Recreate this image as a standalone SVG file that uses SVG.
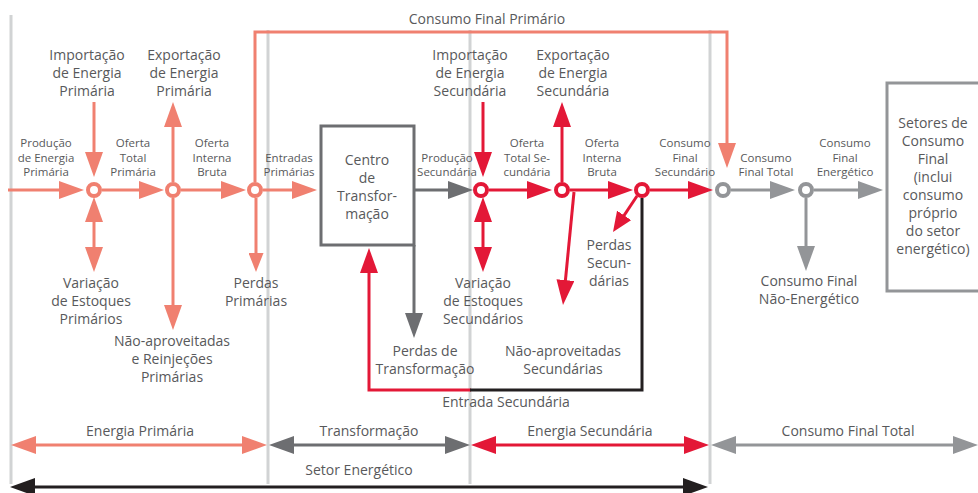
<svg xmlns="http://www.w3.org/2000/svg" width="978" height="493" viewBox="0 0 978 493">
<style>
text{font-family:"Open Sans","DejaVu Sans",sans-serif;fill:#58595B;text-anchor:middle}
.L{font-size:14px}
.S{font-size:11.5px}
.g{stroke:#D1D3D4;stroke-width:3;fill:none}
.ln{fill:none;stroke-width:3}
.sal{stroke:#F08070}
.red{stroke:#E31837}
.dg{stroke:#6D6E71}
.lg{stroke:#939598}
.blk{stroke:#231F20}
.nd{fill:#fff;stroke-width:4}
</style>
<defs>
<marker id="ms" markerUnits="userSpaceOnUse" markerWidth="25" markerHeight="18" refX="19" refY="9" orient="auto-start-reverse" viewBox="0 0 25 18"><path d="M0,0 L25,9 L0,18 z" fill="#F08070"/></marker>
<marker id="mss" markerUnits="userSpaceOnUse" markerWidth="19" markerHeight="15" refX="14" refY="7.5" orient="auto" viewBox="0 0 19 15"><path d="M0,0 L19,7.5 L0,15 z" fill="#F08070"/></marker>
<marker id="mr" markerUnits="userSpaceOnUse" markerWidth="25" markerHeight="18" refX="19" refY="9" orient="auto-start-reverse" viewBox="0 0 25 18"><path d="M0,0 L25,9 L0,18 z" fill="#E31837"/></marker>
<marker id="mrs" markerUnits="userSpaceOnUse" markerWidth="20" markerHeight="17" refX="15" refY="8.5" orient="auto" viewBox="0 0 20 17"><path d="M0,0 L20,8.5 L0,17 z" fill="#E31837"/></marker>
<marker id="mdg" markerUnits="userSpaceOnUse" markerWidth="25" markerHeight="18" refX="19" refY="9" orient="auto-start-reverse" viewBox="0 0 25 18"><path d="M0,0 L25,9 L0,18 z" fill="#6D6E71"/></marker>
<marker id="mlg" markerUnits="userSpaceOnUse" markerWidth="25" markerHeight="18" refX="19" refY="9" orient="auto-start-reverse" viewBox="0 0 25 18"><path d="M0,0 L25,9 L0,18 z" fill="#939598"/></marker>
<marker id="mb" markerUnits="userSpaceOnUse" markerWidth="25" markerHeight="18" refX="19" refY="9" orient="auto-start-reverse" viewBox="0 0 25 18"><path d="M0,0 L25,9 L0,18 z" fill="#231F20"/></marker>
</defs>
<rect width="978" height="493" fill="#fff"/>
<g id="guides">
<path class="g" d="M11,15 V484 M268,30 V484 M470,30 V484 M710,30 V484"/>
</g>
<g id="connectors">
<path class="ln sal" d="M8,190 H78" marker-end="url(#ms)"/>
<path class="ln sal" d="M102,190 H158" marker-end="url(#ms)"/>
<path class="ln sal" d="M181,190 H240" marker-end="url(#ms)"/>
<path class="ln sal" d="M263,190 H311" marker-end="url(#ms)"/>
<path class="ln sal" d="M94,102 V171" marker-end="url(#ms)"/>
<path class="ln sal" d="M94,203 V266" marker-start="url(#ms)" marker-end="url(#ms)"/>
<path class="ln sal" d="M173,182 V108" marker-end="url(#ms)"/>
<path class="ln sal" d="M173,198 V324" marker-end="url(#ms)"/>
<path class="ln sal" d="M255,182 V32 H727 V162" marker-end="url(#ms)"/>
<path class="ln sal" d="M256,198 V267" marker-end="url(#mss)"/>
<path class="ln dg" d="M414,190 H467" marker-end="url(#mdg)"/>
<path class="ln dg" d="M414,245 V332" marker-end="url(#mdg)"/>
<path class="ln red" d="M489,190 H546" marker-end="url(#mr)"/>
<path class="ln red" d="M570,190 H627" marker-end="url(#mr)"/>
<path class="ln red" d="M650,190 H707" marker-end="url(#mr)"/>
<path class="ln red" d="M483,102 V171" marker-end="url(#mr)"/>
<path class="ln red" d="M483,203 V266" marker-start="url(#mr)" marker-end="url(#mr)"/>
<path class="ln red" d="M562,182 V108" marker-end="url(#mr)"/>
<path class="ln red" d="M574,192 L563.6,299" marker-end="url(#mr)"/>
<path class="ln red" d="M637,196 L615.8,227.8" marker-end="url(#mrs)"/>
<path class="ln red" d="M471,390 H369 V254" marker-end="url(#mr)"/>
<path class="ln blk" d="M642,198 V390 H470"/>
<path class="ln lg" d="M731,190 H789" marker-end="url(#mlg)"/>
<path class="ln lg" d="M814,190 H877" marker-end="url(#mlg)"/>
<path class="ln lg" d="M806,198 V265" marker-end="url(#mlg)"/>
<path class="ln sal" d="M17,445 H261" marker-start="url(#ms)" marker-end="url(#ms)"/>
<path class="ln dg" d="M275,445 H464" marker-start="url(#mdg)" marker-end="url(#mdg)"/>
<path class="ln red" d="M477,445 H703" marker-start="url(#mr)" marker-end="url(#mr)"/>
<path class="ln lg" d="M717,445 H972" marker-start="url(#mlg)" marker-end="url(#mlg)"/>
<path class="ln blk" d="M16,487 H702" marker-start="url(#mb)" marker-end="url(#mb)"/>
</g>
<g id="n-primary-1"><circle class="nd sal" cx="94" cy="190" r="6"/></g>
<g id="n-primary-2"><circle class="nd sal" cx="173" cy="190" r="6"/></g>
<g id="n-primary-3"><circle class="nd sal" cx="255" cy="190" r="6"/></g>
<g id="n-sec-1"><circle class="nd red" cx="481" cy="190" r="6"/></g>
<g id="n-sec-2"><circle class="nd red" cx="562" cy="190" r="6"/></g>
<g id="n-sec-3"><circle class="nd red" cx="642" cy="190" r="6"/></g>
<g id="n-final-1"><circle class="nd lg" cx="723" cy="190" r="6"/></g>
<g id="n-final-2"><circle class="nd lg" cx="806" cy="190" r="6"/></g>
<g id="centro">
<rect x="321" y="126" width="93" height="119" fill="none" stroke="#6D6E71" stroke-width="3"/>
<text class="L" x="367" y="165">Centro</text>
<text class="L" x="367" y="183">de</text>
<text class="L" x="367" y="201">Transfor-</text>
<text class="L" x="367" y="219">mação</text>
</g>
<g id="setores">
<rect x="887" y="83" width="100" height="208" fill="none" stroke="#939598" stroke-width="3"/>
<text class="L" x="933" y="128">Setores de</text>
<text class="L" x="933" y="146">Consumo</text>
<text class="L" x="933" y="164">Final</text>
<text class="L" x="933" y="182">(inclui</text>
<text class="L" x="933" y="200">consumo</text>
<text class="L" x="933" y="218">próprio</text>
<text class="L" x="933" y="236">do setor</text>
<text class="L" x="933" y="254">energético)</text>
</g>
<g id="labels">
<text class="L" x="487" y="24">Consumo Final Primário</text>
<text class="L" x="87" y="60">Importação</text><text class="L" x="87" y="78">de Energia</text><text class="L" x="87" y="96">Primária</text>
<text class="L" x="184" y="60">Exportação</text><text class="L" x="184" y="78">de Energia</text><text class="L" x="184" y="96">Primária</text>
<text class="L" x="91" y="288">Variação</text><text class="L" x="91" y="306">de Estoques</text><text class="L" x="91" y="324">Primários</text>
<text class="L" x="172" y="346">Não-aproveitadas</text><text class="L" x="172" y="364">e Reinjeções</text><text class="L" x="172" y="382">Primárias</text>
<text class="L" x="256" y="288">Perdas</text><text class="L" x="256" y="306">Primárias</text>
<text class="L" x="470" y="60">Importação</text><text class="L" x="470" y="78">de Energia</text><text class="L" x="470" y="96">Secundária</text>
<text class="L" x="573" y="60">Exportação</text><text class="L" x="573" y="78">de Energia</text><text class="L" x="573" y="96">Secundária</text>
<text class="L" x="483" y="288">Variação</text><text class="L" x="483" y="306">de Estoques</text><text class="L" x="483" y="324">Secundários</text>
<text class="L" x="609" y="250">Perdas</text><text class="L" x="609" y="268">Secun-</text><text class="L" x="609" y="286">dárias</text>
<text class="L" x="425" y="356">Perdas de</text><text class="L" x="425" y="374">Transformação</text>
<text class="L" x="563" y="356">Não-aproveitadas</text><text class="L" x="563" y="374">Secundárias</text>
<text class="L" x="506" y="407">Entrada Secundária</text>
<text class="L" x="809" y="286">Consumo Final</text><text class="L" x="809" y="304">Não-Energético</text>
<text class="S" x="46" y="147">Produção</text><text class="S" x="46" y="161.5">de Energia</text><text class="S" x="46" y="176">Primária</text>
<text class="S" x="133" y="147">Oferta</text><text class="S" x="133" y="161.5">Total</text><text class="S" x="133" y="176">Primária</text>
<text class="S" x="212" y="147">Oferta</text><text class="S" x="212" y="161.5">Interna</text><text class="S" x="212" y="176">Bruta</text>
<text class="S" x="289" y="161.5">Entradas</text><text class="S" x="289" y="176">Primárias</text>
<text class="S" x="447" y="161.5">Produção</text><text class="S" x="447" y="176">Secundária</text>
<text class="S" x="527" y="147">Oferta</text><text class="S" x="527" y="161.5">Total Se-</text><text class="S" x="527" y="176">cundária</text>
<text class="S" x="602" y="147">Oferta</text><text class="S" x="602" y="161.5">Interna</text><text class="S" x="602" y="176">Bruta</text>
<text class="S" x="685" y="147">Consumo</text><text class="S" x="685" y="161.5">Final</text><text class="S" x="685" y="176">Secundário</text>
<text class="S" x="766" y="161.5">Consumo</text><text class="S" x="766" y="176">Final Total</text>
<text class="S" x="845" y="147">Consumo</text><text class="S" x="845" y="161.5">Final</text><text class="S" x="845" y="176">Energético</text>
<text class="L" x="140" y="436">Energia Primária</text>
<text class="L" x="369" y="436">Transformação</text>
<text class="L" x="590" y="436">Energia Secundária</text>
<text class="L" x="848" y="436">Consumo Final Total</text>
<text class="L" x="359" y="475">Setor Energético</text>
</g>
</svg>
